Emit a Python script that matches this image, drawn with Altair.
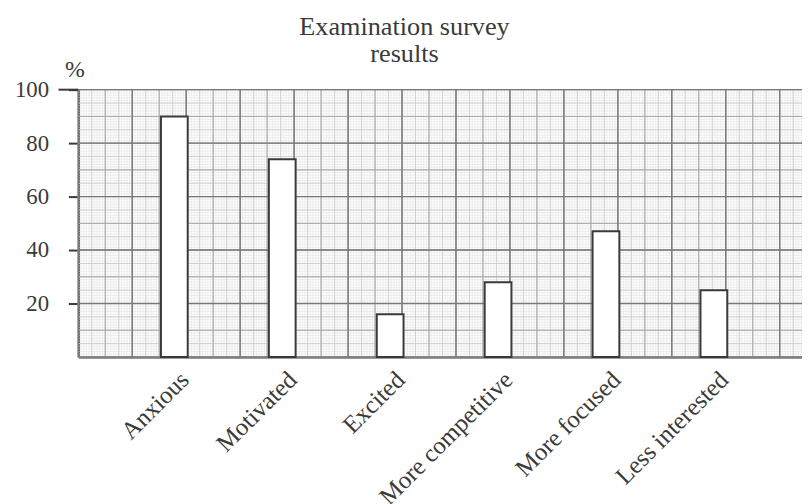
import altair as alt
import pandas as pd

# ---- data ----
categories = ["Anxious", "Motivated", "Excited", "More competitive", "More focused", "Less interested"]
percent = [90, 74, 16, 28, 47, 25]
y_ticks = [20, 40, 60, 80, 100]
title_lines = ["Examination survey", "results"]

bars_df = pd.DataFrame({"feeling": categories, "pct": percent})

PLOT_W = 731
PLOT_H = 270
X_UNITS = 268.26          # graph-paper units across the plot width
FONT = "Liberation Serif"
INK = "#3a3a3a"

yscale = alt.Scale(domain=[0, 100], nice=False, zero=True)
y_axis = alt.Axis(
    values=y_ticks,
    title="%",
    titleAngle=0,
    titleX=-4,
    titleY=-13,
    titleAlign="center",
    titleBaseline="alphabetic",
    titleFont=FONT,
    titleFontSize=24,
    titleFontWeight="normal",
    titleColor=INK,
    labelFont=FONT,
    labelFontSize=23,
    labelColor=INK,
    labelPadding=20,
    tickSize=10,
    tickWidth=2,
    tickColor=INK,
    domainColor=INK,
    domainWidth=2,
    grid=False,
)

# graph-paper levels: (every n units, colour, width)
levels = [(1, "#dedede", 0.5), (5, "#c8c8c8", 0.8), (10, "#a6a6a6", 1.0), (20, "#787878", 1.4)]

layers = []
for step, col, w in levels:
    hdf = pd.DataFrame({"v": list(range(0, 101, step))})
    vdf = pd.DataFrame({"u": list(range(0, int(X_UNITS) + 1, step))})
    layers.append(
        alt.Chart(hdf).mark_rule(color=col, strokeWidth=w).encode(
            y=alt.Y("v:Q", scale=yscale, axis=y_axis)
        )
    )
    layers.append(
        alt.Chart(vdf).mark_rule(color=col, strokeWidth=w).encode(
            x=alt.X("u:Q", scale=alt.Scale(domain=[0, X_UNITS], nice=False, zero=False), axis=None)
        )
    )

bars = alt.Chart(bars_df).mark_bar(fill="white", stroke=INK, strokeWidth=2).encode(
    x=alt.X(
        "feeling:N",
        sort=categories,
        scale=alt.Scale(range=[0, 739], paddingInner=0.752, paddingOuter=0.766),
        axis=alt.Axis(
            title=None,
            labelAngle=-45,
            labelFont=FONT,
            labelFontSize=25,
            labelColor=INK,
            labelPadding=10,
            labelOffset=2,
            ticks=False,
            domainColor=INK,
            domainWidth=2,
            grid=False,
        ),
    ),
    y=alt.Y("pct:Q", scale=yscale, axis=y_axis),
)

top_tick = alt.Chart(pd.DataFrame({"v": [100]})).mark_rule(color=INK, strokeWidth=2).encode(
    y=alt.Y("v:Q", scale=yscale, axis=y_axis),
    x=alt.value(-20),
    x2=alt.value(0),
)

chart = (
    alt.layer(*layers, bars, top_tick)
    .resolve_scale(x="independent")
    .properties(
        width=PLOT_W,
        height=PLOT_H,
        autosize=alt.AutoSizeParams(type="none"),
        padding={"left": 71, "top": 80, "right": 0, "bottom": 146},
        background="white",
        title=alt.TitleParams(
            text=title_lines,
            font=FONT,
            fontSize=26.5,
            fontWeight="normal",
            color=INK,
            anchor="middle",
            frame="group",
            dx=-36,
            dy=14,
            lineHeight=28,
        ),
    )
    .configure_view(stroke=None)
)

chart.save("out.html", embed_options={"renderer": "svg", "actions": False})
